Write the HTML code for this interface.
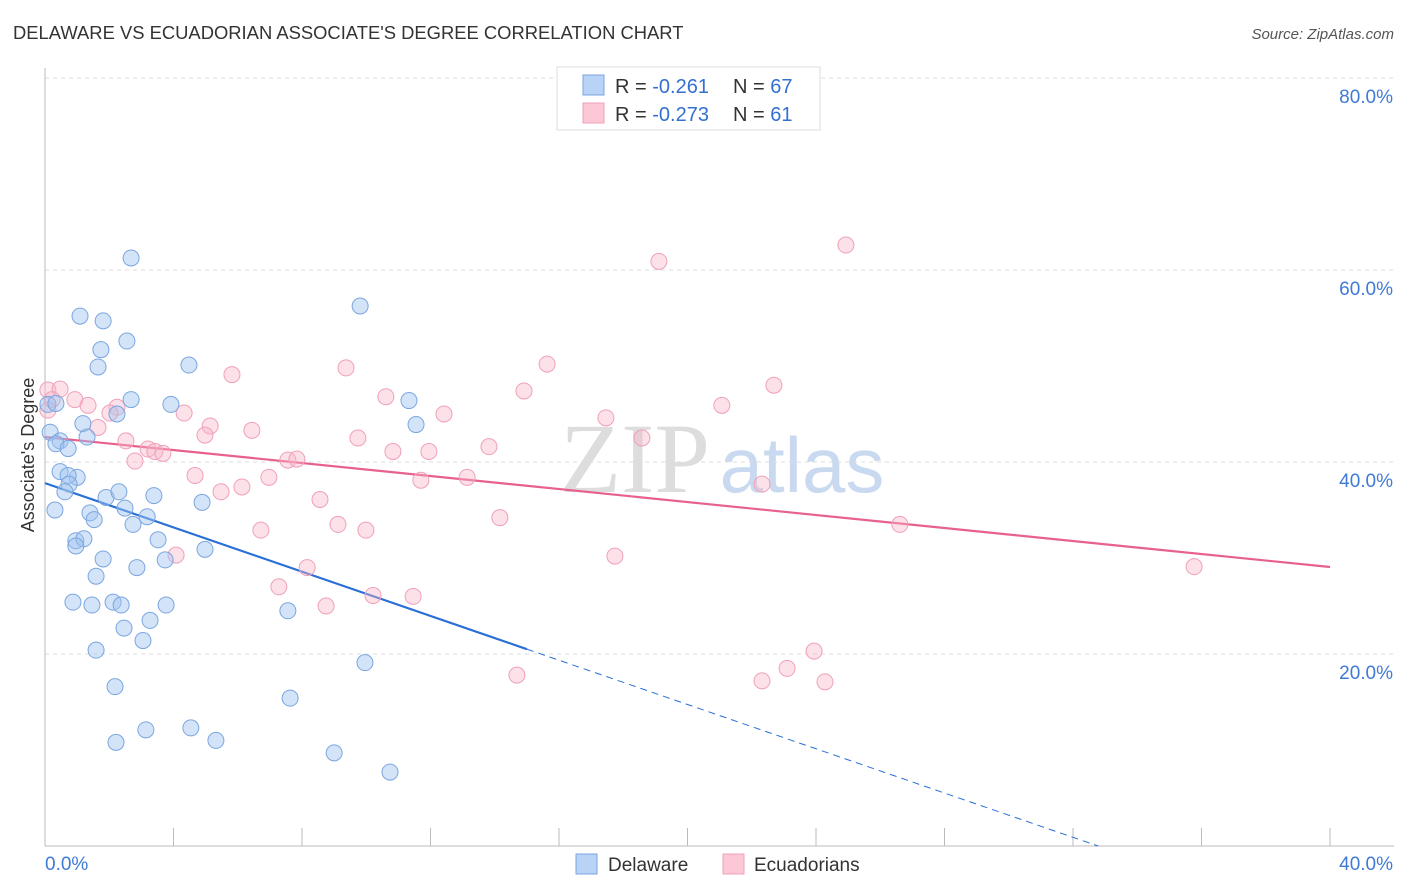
<!DOCTYPE html>
<html><head><meta charset="utf-8"><style>
body{margin:0;background:#fff;font-family:"Liberation Sans",sans-serif}
svg{display:block}
</style></head><body>
<svg id="chart" width="1406" height="892">
<text x="13" y="39" font-size="18.4" fill="#333">DELAWARE VS ECUADORIAN ASSOCIATE'S DEGREE CORRELATION CHART</text>
<text x="1394" y="39" font-size="15" fill="#555" font-style="italic" text-anchor="end">Source: ZipAtlas.com</text>
<g><text x="635" y="492" font-size="100" fill="#ddd" font-family="Liberation Serif" text-anchor="middle">ZIP</text><text x="802" y="492" font-size="78" fill="#c9daf0" text-anchor="middle">atlas</text></g>
<g id="grid"></g><g id="axes"></g><g id="lines"></g><g id="pts"></g>
<text transform="translate(34,455) rotate(-90)" font-size="18" fill="#333" text-anchor="middle">Associate's Degree</text>
<g>
<rect x="557" y="67" width="263" height="63" fill="#fff" stroke="#ddd"/>
<rect x="583" y="75" width="21" height="20" fill="#b8d3f5" stroke="#7aa6e0"/>
<rect x="583" y="103" width="21" height="20" fill="#fcc8d6" stroke="#f0a0b8"/>
<text x="615" y="93" font-size="20" fill="#333">R = <tspan fill="#3370d0"> -0.261</tspan><tspan x="733">N = </tspan><tspan fill="#3370d0">67</tspan></text>
<text x="615" y="121" font-size="20" fill="#333">R = <tspan fill="#3370d0">-0.273</tspan><tspan x="733">N = </tspan><tspan fill="#3370d0"> 61</tspan></text>
</g>
<g>
<rect x="576" y="854" width="21" height="20" fill="#b8d3f5" stroke="#7aa6e0"/>
<text x="608" y="871" font-size="19" fill="#333">Delaware</text>
<rect x="723" y="854" width="21" height="20" fill="#fcc8d6" stroke="#f0a0b8"/>
<text x="754" y="871" font-size="19" fill="#333">Ecuadorians</text>
</g>
</svg>
<script>
const yTicks=[20,40,60,80];
const yTickLabels=["20.0%","40.0%","60.0%","80.0%"];
const xTickLabels=["0.0%","40.0%"];
const blueX=[2.68,9.81,1.09,1.81,2.55,1.74,1.65,4.48,2.68,3.92,11.33,0.09,0.34,2.24,11.55,1.18,1.31,0.16,0.47,0.34,0.72,0.47,1.0,0.72,0.75,0.62,1.9,2.3,3.39,4.89,0.31,1.4,2.49,1.53,2.74,3.18,0.96,1.21,3.52,0.96,1.81,3.74,4.98,2.86,1.59,0.87,1.46,2.12,2.37,3.77,7.56,3.27,2.46,3.05,1.59,9.96,2.18,7.63,3.14,4.54,2.21,5.32,9.0,10.74];
const blueY=[61.25,56.25,55.2,54.7,52.6,51.7,49.9,50.1,46.5,46.0,46.4,46.0,46.1,45.0,43.9,44.0,42.6,43.1,42.2,41.9,41.4,39.0,38.4,38.6,37.7,36.9,36.3,36.9,36.5,35.8,35.0,34.7,35.2,34.0,33.5,34.3,31.8,32.0,31.9,31.25,29.9,29.8,30.9,29.0,28.1,25.4,25.1,25.4,25.1,25.1,24.5,23.5,22.7,21.4,20.4,19.1,16.6,15.4,12.1,12.3,10.8,11.0,9.7,7.7];
const pinkX=[24.93,19.11,15.63,9.37,5.82,22.69,14.91,10.61,21.07,0.09,0.47,0.22,0.93,1.34,2.24,4.33,2.02,12.42,17.46,5.14,1.65,6.44,4.98,9.74,18.58,2.52,13.82,3.21,3.42,3.67,10.83,11.95,2.8,7.56,7.84,4.67,6.97,13.14,11.7,6.13,5.48,8.56,14.16,9.12,26.61,9.99,6.72,4.08,17.74,8.16,35.77,7.28,10.21,11.46,8.75,23.94,23.1,14.69,22.32,24.28,22.32,0.09];
const pinkY=[62.6,60.9,50.2,49.8,49.1,48.0,47.4,46.8,45.9,47.5,47.6,46.5,46.5,45.9,45.7,45.1,45.1,45.0,44.6,43.75,43.6,43.3,42.8,42.5,42.5,42.2,41.6,41.35,41.1,40.9,41.1,41.1,40.1,40.2,40.3,38.6,38.4,38.4,38.1,37.4,36.9,36.1,34.2,33.5,33.5,32.9,32.9,30.3,30.2,29.0,29.1,27.0,26.1,26.0,25.0,20.3,18.5,17.8,17.2,17.1,37.7,45.4];
const blueTrend=[37.8,-1.153];
const pinkTrend=[42.6,-0.3385];
const X=v=>45+v*32.125, Y=v=>846-v*9.6;
const NS="http://www.w3.org/2000/svg";
function mk(p,tag,a){const e=document.createElementNS(NS,tag);for(const k in a)e.setAttribute(k,a[k]);document.getElementById(p).appendChild(e);return e;}
yTicks.forEach((t,i)=>{
 const g=mk('grid','line',{x1:45,x2:1394,y1:Y(t),y2:Y(t),stroke:'#ddd','stroke-dasharray':'4,4'});
 
 
 const l=mk('axes','text',{x:1393,y:Y(t)+25,'font-size':19,fill:'#3f7ad6','text-anchor':'end'});l.textContent=yTickLabels[i];
 
 
});
const ax=mk('axes','line',{x1:45,x2:1394,y1:846,y2:846,stroke:'#bbb'});


const ay=mk('axes','line',{x1:45,x2:45,y1:68,y2:846,stroke:'#bbb'});


for(let i=0;i<=10;i++){const t=mk('axes','line',{x1:X(i*4),x2:X(i*4),y1:828,y2:846,stroke:'#bbb'});
 
 }
[[0,'start',45],[40,'end',1393]].forEach((d,i)=>{const l=mk('axes','text',{x:d[2],y:870,'font-size':19,fill:'#3f7ad6','text-anchor':d[1]});l.textContent=xTickLabels[i];
 
 });
function pts(xs,ys,fill,st,name){xs.forEach((x,i)=>{const c=mk('pts','circle',{cx:X(x),cy:Y(ys[i]),r:8,fill:fill,stroke:st,'stroke-width':1});
 
 });}
pts(pinkX,pinkY,'rgba(248,180,200,0.4)','#f0a0b8','ecuadorians-point');
pts(blueX,blueY,'rgba(160,196,240,0.45)','#7aa6e0','delaware-point');
const bEnd=15, bZero=-blueTrend[0]/blueTrend[1];
const b1=mk('lines','line',{x1:X(0),y1:Y(blueTrend[0]),x2:X(bEnd),y2:Y(blueTrend[0]+blueTrend[1]*bEnd),stroke:'#2a6fd6','stroke-width':2.2});


const b2=mk('lines','line',{x1:X(bEnd),y1:Y(blueTrend[0]+blueTrend[1]*bEnd),x2:X(bZero),y2:Y(0),stroke:'#2a6fd6','stroke-width':1,'stroke-dasharray':'7,5'});


const p1=mk('lines','line',{x1:X(0),y1:Y(pinkTrend[0]),x2:X(40),y2:Y(pinkTrend[0]+pinkTrend[1]*40),stroke:'#e8608c','stroke-width':2.2});


</script>
</body></html>
